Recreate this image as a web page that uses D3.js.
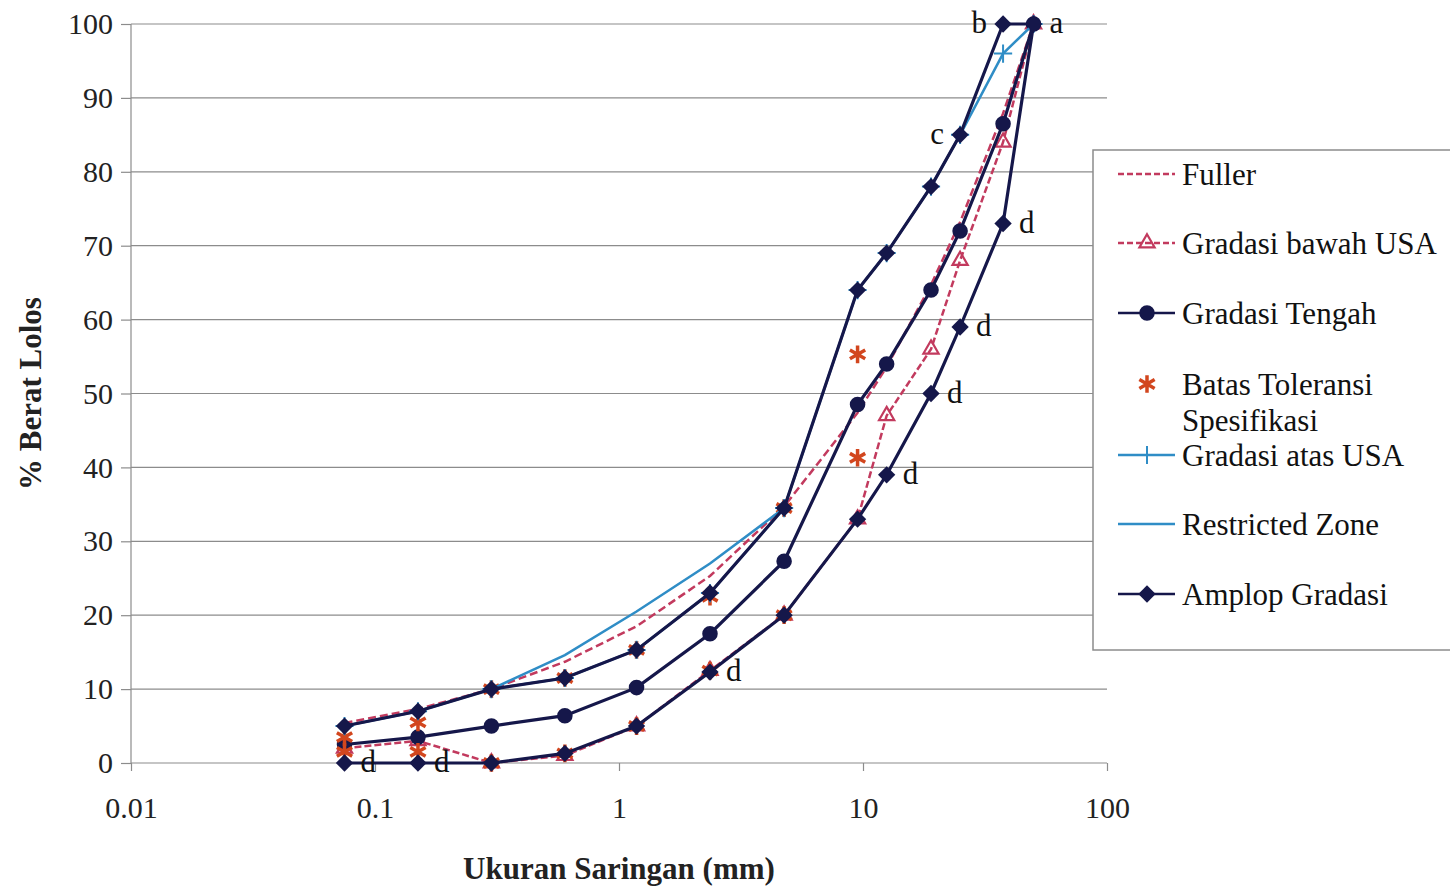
<!DOCTYPE html>
<html>
<head>
<meta charset="utf-8">
<script src="https://cdn.jsdelivr.net/npm/d3@7"></script>
<style>
  body { margin: 0; background: #fff; }
  text { font-family: "Liberation Serif", "Times New Roman", serif; }
</style>
</head>
<body>
<div id="chart"></div>
<script>
// sieve sizes (mm) and percent passing for each curve
var sieveSizes = [0.075, 0.15, 0.3, 0.6, 1.18, 2.36, 4.75, 9.5, 12.5, 19, 25, 37.5, 50];
var fuller = [5.4, 7.3, 10, 13.7, 18.5, 25.3, 34.7, 47.4, 53.6, 64.7, 73.2, 87.9, 100];
var bawahUSA = [2, 3, 0, 1, 5, 12.5, 20, 33, 47, 56, 68, 84, 100];
var tengah = [2.5, 3.5, 5, 6.4, 10.2, 17.5, 27.3, 48.5, 54, 64, 72, 86.5, 100];
var atasUSA = [5, 7, 10, 11.5, 15.3, 23, 34.5, 64, 69, 78, 85, 96, 100];
var amplopAtas = [5, 7, 10, 11.5, 15.3, 23, 34.5, 64, 69, 78, 85, 100, 100];
var amplopBawah = [0, 0, 0, 1.3, 5, 12.3, 20, 33, 39, 50, 59, 73, 100];

// tolerance limits only on the finer sieves
var batasSizes = [0.075, 0.15, 0.3, 0.6, 1.18, 2.36, 4.75, 9.5];
var batasAtas = [3.5, 5.5, 10, 11.5, 15.3, 22.5, 34.5, 55.3];
var batasBawah = [1.5, 1.5, 0, 1.3, 5, 12.5, 20, 41.3];

// restricted zone
var restrictedSizes = [0.3, 0.6, 1.18, 2.36, 4.75];
var restricted = [10, 14.6, 20.5, 27, 34.5];

// letters on the envelope
var labelText = ["a", "b", "c", "d", "d", "d", "d", "d", "d", "d"];
var labelSize = [50, 37.5, 25, 37.5, 25, 19, 12.5, 2.36, 0.075, 0.15];
var labelValue = [100, 100, 85, 73, 59, 50, 39, 12.3, 0, 0];

var xTicks = [0.01, 0.1, 1, 10, 100];
var yTicks = [0, 10, 20, 30, 40, 50, 60, 70, 80, 90, 100];

var svgWidth = 1450;
var svgHeight = 889;

var margin = { top: 24, right: 343, bottom: 126, left: 131 };
var width = svgWidth - margin.left - margin.right;
var height = svgHeight - margin.top - margin.bottom;

var navy = "#15174a";
var pink = "#c23a5e";
var orange = "#d2461e";
var blue = "#2f8dc6";

var svg = d3.select("#chart")
    .append("svg")
    .attr("width", svgWidth)
    .attr("height", svgHeight);

var chart = svg.append("g")
    .attr("transform", `translate(${margin.left}, ${margin.top})`);

var xScale = d3.scaleLog()
    .domain([0.01, 100])
    .range([0, width]);

var yScale = d3.scaleLinear()
    .domain([0, 100])
    .range([height, 0]);

// gridlines
chart.selectAll(".grid")
    .data(yTicks.slice(1))
    .enter()
    .append("line")
    .attr("x1", 0)
    .attr("x2", width)
    .attr("y1", d => yScale(d))
    .attr("y2", d => yScale(d))
    .attr("stroke", "#8c8c8c")
    .attr("stroke-width", 1.2);

// axes
var yAxis = d3.axisLeft(yScale).tickValues(yTicks).tickSize(10).tickPadding(8);
var xAxis = d3.axisBottom(xScale).tickValues(xTicks).tickFormat(d3.format("")).tickSize(8).tickPadding(26);

var gy = chart.append("g").call(yAxis);
var gx = chart.append("g").attr("transform", "translate(0," + height + ")").call(xAxis);

[gx, gy].forEach(function (g) {
    g.selectAll("path").attr("stroke", "#8c8c8c").attr("stroke-width", 1.2);
    g.selectAll("line").attr("stroke", "#8c8c8c").attr("stroke-width", 1.2);
    g.selectAll("text")
        .attr("font-family", "Liberation Serif")
        .attr("font-size", 30)
        .attr("fill", "#222");
});
gx.select(".domain").attr("d", "M0,0H" + width);
gy.select(".domain").attr("d", "M0," + height + "V0");

// axis titles
svg.append("text")
    .attr("x", margin.left + width / 2)
    .attr("y", 879)
    .attr("text-anchor", "middle")
    .attr("font-size", 31)
    .attr("font-weight", "bold")
    .attr("fill", "#222")
    .text("Ukuran Saringan (mm)");

svg.append("text")
    .attr("transform", "translate(41," + (margin.top + height / 2) + ") rotate(-90)")
    .attr("text-anchor", "middle")
    .attr("font-size", 31)
    .attr("font-weight", "bold")
    .attr("fill", "#222")
    .text("% Berat Lolos");

var line = d3.line()
    .x(d => xScale(d[0]))
    .y(d => yScale(d[1]));

function pairs(xs, ys) {
    return xs.map((x, i) => [x, ys[i]]);
}

var sym = {
    circle: d3.symbol().type(d3.symbolCircle).size(190),
    diamond: d3.symbol().type(d3.symbolSquare).size(150),
    triangle: d3.symbol().type(d3.symbolTriangle).size(100),
    asterisk: d3.symbol().type(d3.symbolAsterisk).size(220),
    plus: d3.symbol().type(d3.symbolPlus).size(110)
};
var rot = { diamond: 45 };

function drawMarkers(data, shape, fill, stroke, sw) {
    chart.append("g")
        .selectAll("path")
        .data(data)
        .enter()
        .append("path")
        .attr("transform", d => "translate(" + xScale(d[0]) + "," + yScale(d[1]) + ") rotate(" + (rot[shape] || 0) + ")")
        .attr("d", sym[shape])
        .attr("fill", fill)
        .attr("stroke", stroke)
        .attr("stroke-width", sw);
}

// Fuller
var fullerData = pairs(sieveSizes, fuller);
chart.append("path")
    .datum(fullerData)
    .attr("d", line)
    .attr("fill", "none")
    .attr("stroke", pink)
    .attr("stroke-width", 2.5)
    .attr("stroke-dasharray", "8,4");

// Gradasi bawah USA
var bawahData = pairs(sieveSizes, bawahUSA);
chart.append("path")
    .datum(bawahData)
    .attr("d", line)
    .attr("fill", "none")
    .attr("stroke", pink)
    .attr("stroke-width", 2.5)
    .attr("stroke-dasharray", "7,3");
drawMarkers(bawahData, "triangle", "none", pink, 2.2);

// Gradasi Tengah
var tengahData = pairs(sieveSizes, tengah);
chart.append("path")
    .datum(tengahData)
    .attr("d", line)
    .attr("fill", "none")
    .attr("stroke", navy)
    .attr("stroke-width", 3.2);
drawMarkers(tengahData, "circle", navy, "none", 0);

// Batas Toleransi
var batasData = pairs(batasSizes, batasAtas).concat(pairs(batasSizes, batasBawah));
drawMarkers(batasData, "asterisk", "none", orange, 3.5);

// Gradasi atas USA
var atasData = pairs(sieveSizes, atasUSA);
chart.append("path")
    .datum(atasData)
    .attr("d", line)
    .attr("fill", "none")
    .attr("stroke", blue)
    .attr("stroke-width", 2.5);
drawMarkers(atasData, "plus", "none", blue, 2);

// Restricted zone
chart.append("path")
    .datum(pairs(restrictedSizes, restricted))
    .attr("d", line)
    .attr("fill", "none")
    .attr("stroke", blue)
    .attr("stroke-width", 2.5);

// Amplop Gradasi: upper curve out, lower curve back
var amplopData = pairs(sieveSizes, amplopAtas)
    .concat(pairs(sieveSizes, amplopBawah).reverse().slice(1));
chart.append("path")
    .datum(amplopData)
    .attr("d", line)
    .attr("fill", "none")
    .attr("stroke", navy)
    .attr("stroke-width", 3.2);
drawMarkers(amplopData, "diamond", navy, "none", 0);

// letters
chart.selectAll(".lbl")
    .data(labelText)
    .enter()
    .append("text")
    .attr("x", (d, i) => xScale(labelSize[i]) + (d == "b" || d == "c" ? -16 : 16))
    .attr("y", (d, i) => yScale(labelValue[i]))
    .attr("dy", "0.3em")
    .attr("text-anchor", d => (d == "b" || d == "c") ? "end" : "start")
    .attr("font-size", 31)
    .attr("fill", "#111")
    .text(d => d);

// legend
var legend = svg.append("g").attr("transform", "translate(1093,150)");
legend.append("rect")
    .attr("width", 380)
    .attr("height", 500)
    .attr("fill", "#fff")
    .attr("stroke", "#8c8c8c")
    .attr("stroke-width", 1.5);

var legendItems = [
    { name: ["Fuller"], y: 24, stroke: pink, dash: "6,3", marker: null },
    { name: ["Gradasi bawah USA"], y: 93, stroke: pink, dash: "6,3", marker: "triangle" },
    { name: ["Gradasi Tengah"], y: 163, stroke: navy, dash: null, marker: "circle" },
    { name: ["Batas Toleransi", "Spesifikasi"], y: 234, stroke: null, dash: null, marker: "asterisk" },
    { name: ["Gradasi atas USA"], y: 305, stroke: blue, dash: null, marker: "plus" },
    { name: ["Restricted Zone"], y: 374, stroke: blue, dash: null, marker: null },
    { name: ["Amplop Gradasi"], y: 444, stroke: navy, dash: null, marker: "diamond" }
];

legendItems.forEach(function (item) {
    var g = legend.append("g").attr("transform", "translate(0," + item.y + ")");
    if (item.stroke) {
        g.append("line")
            .attr("x1", 25).attr("x2", 82)
            .attr("stroke", item.stroke)
            .attr("stroke-width", 2.5)
            .attr("stroke-dasharray", item.dash);
    }
    if (item.marker) {
        var m = g.append("path")
            .attr("transform", "translate(54,0) rotate(" + (rot[item.marker] || 0) + ")")
            .attr("d", sym[item.marker]);
        if (item.marker == "circle" || item.marker == "diamond") {
            m.attr("fill", navy);
        } else if (item.marker == "triangle") {
            m.attr("fill", "none").attr("stroke", pink).attr("stroke-width", 2.2);
        } else if (item.marker == "asterisk") {
            m.attr("fill", "none").attr("stroke", orange).attr("stroke-width", 3.5);
        } else {
            m.attr("fill", "none").attr("stroke", blue).attr("stroke-width", 2);
        }
    }
    item.name.forEach(function (t, k) {
        g.append("text")
            .attr("x", 89)
            .attr("y", k * 36)
            .attr("dy", "0.35em")
            .attr("font-size", 31)
            .attr("fill", "#111")
            .text(t);
    });
});
</script>
</body>
</html>
